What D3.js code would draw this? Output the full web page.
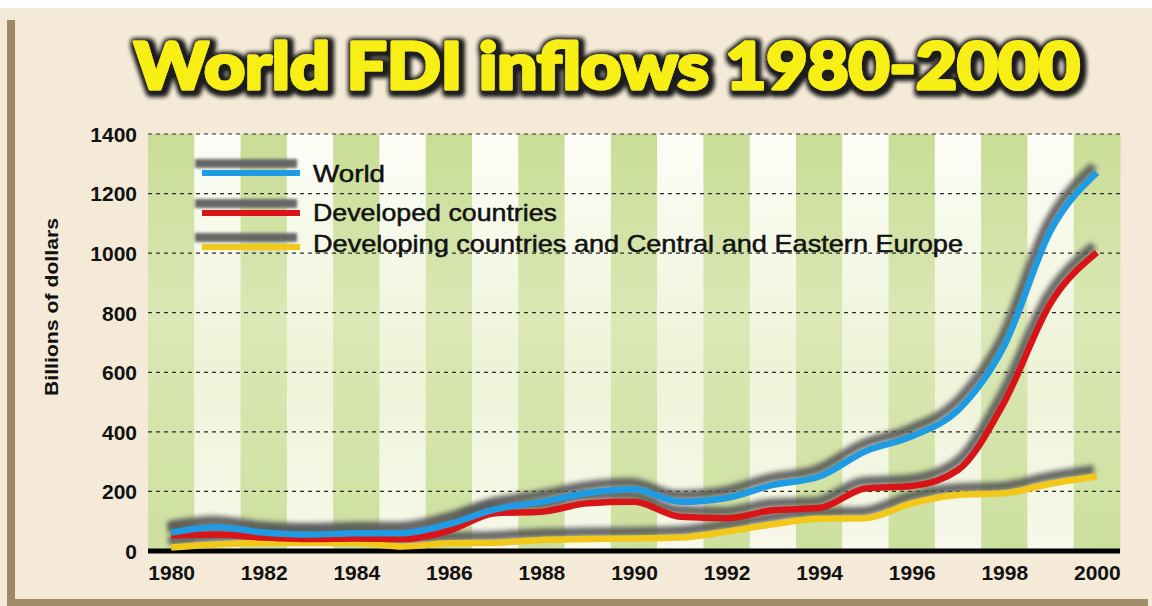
<!DOCTYPE html>
<html>
<head>
<meta charset="utf-8">
<script src="https://cdn.jsdelivr.net/npm/d3@7"></script>
<style>
  body { margin: 0; background: #fff; }
  svg { display: block; }
</style>
</head>
<body>
<div id="chart"></div>
<script>
'use strict';

// Data: billions of dollars
var years = d3.range(1980, 2001);
var world = [62, 80, 62, 55, 60, 60, 90, 140, 165, 195, 207, 165, 178, 222, 250, 335, 385, 473, 690, 1075, 1270];
var developed = [52, 55, 45, 40, 42, 40, 68, 127, 132, 160, 165, 115, 110, 137, 144, 210, 218, 272, 500, 832, 1002];
var developing = [12, 22, 27, 27, 27, 15, 26, 28, 37, 40, 42, 45, 65, 90, 108, 110, 160, 188, 194, 226, 250];
var yTicks = [0, 200, 400, 600, 800, 1000, 1200, 1400];
var xTicks = [1980, 1982, 1984, 1986, 1988, 1990, 1992, 1994, 1996, 1998, 2000];

var series = [
  {name: 'Developing countries and Central and Eastern Europe', values: developing, color: '#f2c81a'},
  {name: 'Developed countries', values: developed, color: '#d81418'},
  {name: 'World', values: world, color: '#1e9be2'}
];

var W = 1152, H = 606;
var plotLeft = 148, plotRight = 1120, plotTop = 134, plotBottom = 551;

var svg = d3.select('#chart').append('svg')
  .attr('width', W)
  .attr('height', H);

var defs = svg.append('defs');

defs.append('filter').attr('id', 'blur')
  .attr('x', '-10%').attr('y', '-50%').attr('width', '120%').attr('height', '200%')
  .append('feGaussianBlur').attr('stdDeviation', 2.6);

// legend shadows are thin rects, so give the filter room in user space
defs.append('filter').attr('id', 'blurSmall')
  .attr('filterUnits', 'userSpaceOnUse')
  .attr('x', 150).attr('y', 120).attr('width', 200).attr('height', 160)
  .append('feGaussianBlur').attr('stdDeviation', 1.6);

// dark halo round the title letters
var tf = defs.append('filter').attr('id', 'titleGlow')
  .attr('x', '-5%').attr('y', '-30%').attr('width', '110%').attr('height', '160%');
tf.append('feMorphology').attr('in', 'SourceAlpha').attr('operator', 'dilate').attr('radius', 3).attr('result', 'fat');
tf.append('feGaussianBlur').attr('in', 'fat').attr('stdDeviation', 2.8).attr('result', 'soft');
tf.append('feOffset').attr('in', 'soft').attr('dx', 2).attr('dy', 2).attr('result', 'moved');
tf.append('feFlood').attr('flood-color', '#1c1c1c').attr('result', 'ink');
tf.append('feComposite').attr('in', 'ink').attr('in2', 'moved').attr('operator', 'in').attr('result', 'shadow');
var tm = tf.append('feMerge');
tm.append('feMergeNode').attr('in', 'shadow');
tm.append('feMergeNode').attr('in', 'shadow');
tm.append('feMergeNode').attr('in', 'SourceGraphic');

var gGreen = defs.append('linearGradient').attr('id', 'green').attr('x1', 0).attr('y1', 0).attr('x2', 0).attr('y2', 1);
gGreen.append('stop').attr('offset', '0%').attr('stop-color', '#c9dd96');
gGreen.append('stop').attr('offset', '45%').attr('stop-color', '#dbe8b6');
gGreen.append('stop').attr('offset', '100%').attr('stop-color', '#cde09e');

var gWhite = defs.append('linearGradient').attr('id', 'white').attr('x1', 0).attr('y1', 0).attr('x2', 0).attr('y2', 1);
gWhite.append('stop').attr('offset', '0%').attr('stop-color', '#fdfdf7');
gWhite.append('stop').attr('offset', '55%').attr('stop-color', '#eef3d8');
gWhite.append('stop').attr('offset', '100%').attr('stop-color', '#f7f8ea');

// Frame
svg.append('rect').attr('x', 0).attr('y', 8).attr('width', W).attr('height', H - 8).attr('fill', '#f4ead7');
svg.append('rect').attr('x', 7).attr('y', 20).attr('width', 8).attr('height', H - 20).attr('fill', '#9d8965');
svg.append('rect').attr('x', 7).attr('y', 599).attr('width', 1141).attr('height', 7).attr('fill', '#a28d69');

// Scales
var band = d3.scaleBand().domain(years).range([plotLeft, plotRight]);
var x = d3.scalePoint().domain(years).range([plotLeft, plotRight]).padding(0.5);
var y = d3.scaleLinear().domain([0, 1400]).range([plotBottom, plotTop]);

// Stripes
svg.append('g').selectAll('rect')
  .data(years)
  .join('rect')
  .attr('x', function(d){ return band(d) })
  .attr('y', plotTop)
  .attr('width', band.bandwidth() + 0.5)
  .attr('height', plotBottom - plotTop)
  .attr('fill', function(d, i){ return i % 2 === 0 ? 'url(#green)' : 'url(#white)' });

// Grid
svg.append('g').selectAll('line')
  .data(yTicks.slice(1))
  .join('line')
  .attr('x1', plotLeft).attr('x2', plotRight)
  .attr('y1', function(d){ return y(d) }).attr('y2', function(d){ return y(d) })
  .attr('stroke', '#2b2b2b')
  .attr('stroke-width', 1.2)
  .attr('stroke-dasharray', '4,4');

// Axes
var yAxis = svg.append('g')
  .attr('transform', 'translate(' + plotLeft + ',0)')
  .call(d3.axisLeft(y).tickValues(yTicks).tickFormat(d3.format('d')).tickSize(0).tickPadding(11));
yAxis.select('.domain').remove();
yAxis.selectAll('text')
  .attr('font-family', 'Liberation Sans, Arial, sans-serif')
  .attr('font-weight', 'bold')
  .attr('font-size', 21)
  .attr('fill', '#111')
  .attr('dy', '0.35em');

var xAxis = svg.append('g')
  .attr('transform', 'translate(0,' + plotBottom + ')')
  .call(d3.axisBottom(x).tickValues(xTicks).tickFormat(d3.format('d')).tickSize(0).tickPadding(14));
xAxis.select('.domain').remove();
xAxis.selectAll('text')
  .attr('font-family', 'Liberation Sans, Arial, sans-serif')
  .attr('font-weight', 'bold')
  .attr('font-size', 21)
  .attr('fill', '#111');

svg.append('line')
  .attr('x1', plotLeft).attr('x2', plotRight)
  .attr('y1', y(0)).attr('y2', y(0))
  .attr('stroke', '#000')
  .attr('stroke-width', 5);

svg.append('text')
  .attr('transform', 'translate(58,307) rotate(-90)')
  .attr('text-anchor', 'middle')
  .attr('font-family', 'Liberation Sans, Arial, sans-serif')
  .attr('font-weight', 'bold')
  .attr('font-size', 19)
  .attr('textLength', 178)
  .attr('lengthAdjust', 'spacingAndGlyphs')
  .attr('fill', '#111')
  .text('Billions of dollars');

// Lines with soft grey shadows
var line = d3.line()
  .x(function(d, i){ return x(years[i]) })
  .y(function(d){ return y(d) })
  .curve(d3.curveMonotoneX);

var lines = svg.append('g');
series.forEach(function(s){
  lines.append('path')
    .datum(s.values)
    .attr('d', line)
    .attr('transform', 'translate(-3,-7)')
    .attr('fill', 'none')
    .attr('stroke', '#575757')
    .attr('stroke-width', 9)
    .attr('stroke-linejoin', 'round')
    .attr('opacity', 0.9)
    .attr('filter', 'url(#blur)');
  lines.append('path')
    .datum(s.values)
    .attr('d', line)
    .attr('fill', 'none')
    .attr('stroke', s.color)
    .attr('stroke-width', 6.5)
    .attr('stroke-linejoin', 'round');
});

// Legend
var legendRows = [
  {s: series[2], y: 173, ty: 182, len: 72},
  {s: series[1], y: 213, ty: 221, len: 244},
  {s: series[0], y: 247, ty: 252, len: 650}
];
var legend = svg.append('g');
legendRows.forEach(function(r){
  legend.append('rect')
    .attr('x', 195).attr('y', r.y - 14)
    .attr('width', 102).attr('height', 9)
    .attr('fill', '#666')
    .attr('filter', 'url(#blurSmall)');
  legend.append('line')
    .attr('x1', 202).attr('x2', 300)
    .attr('y1', r.y).attr('y2', r.y)
    .attr('stroke', r.s.color)
    .attr('stroke-width', 6);
  legend.append('text')
    .attr('x', 313).attr('y', r.ty)
    .attr('font-family', 'Liberation Sans, Arial, sans-serif')
    .attr('font-size', 24)
    .attr('textLength', r.len)
    .attr('lengthAdjust', 'spacingAndGlyphs')
    .attr('fill', '#111')
    .attr('stroke', '#111')
    .attr('stroke-width', 0.5)
    .text(r.s.name);
});

// Title
svg.append('text')
  .attr('x', 134).attr('y', 89)
  .attr('font-family', 'Lato, DejaVu Sans, sans-serif')
  .attr('font-weight', 900)
  .attr('font-size', 64)
  .attr('textLength', 946)
  .attr('lengthAdjust', 'spacingAndGlyphs')
  .attr('fill', '#f8ef12')
  .attr('stroke', '#f8ef12')
  .attr('stroke-width', 3)
  .attr('stroke-linejoin', 'round')
  .attr('filter', 'url(#titleGlow)')
  .text('World FDI inflows 1980-2000');
</script>
</body>
</html>
